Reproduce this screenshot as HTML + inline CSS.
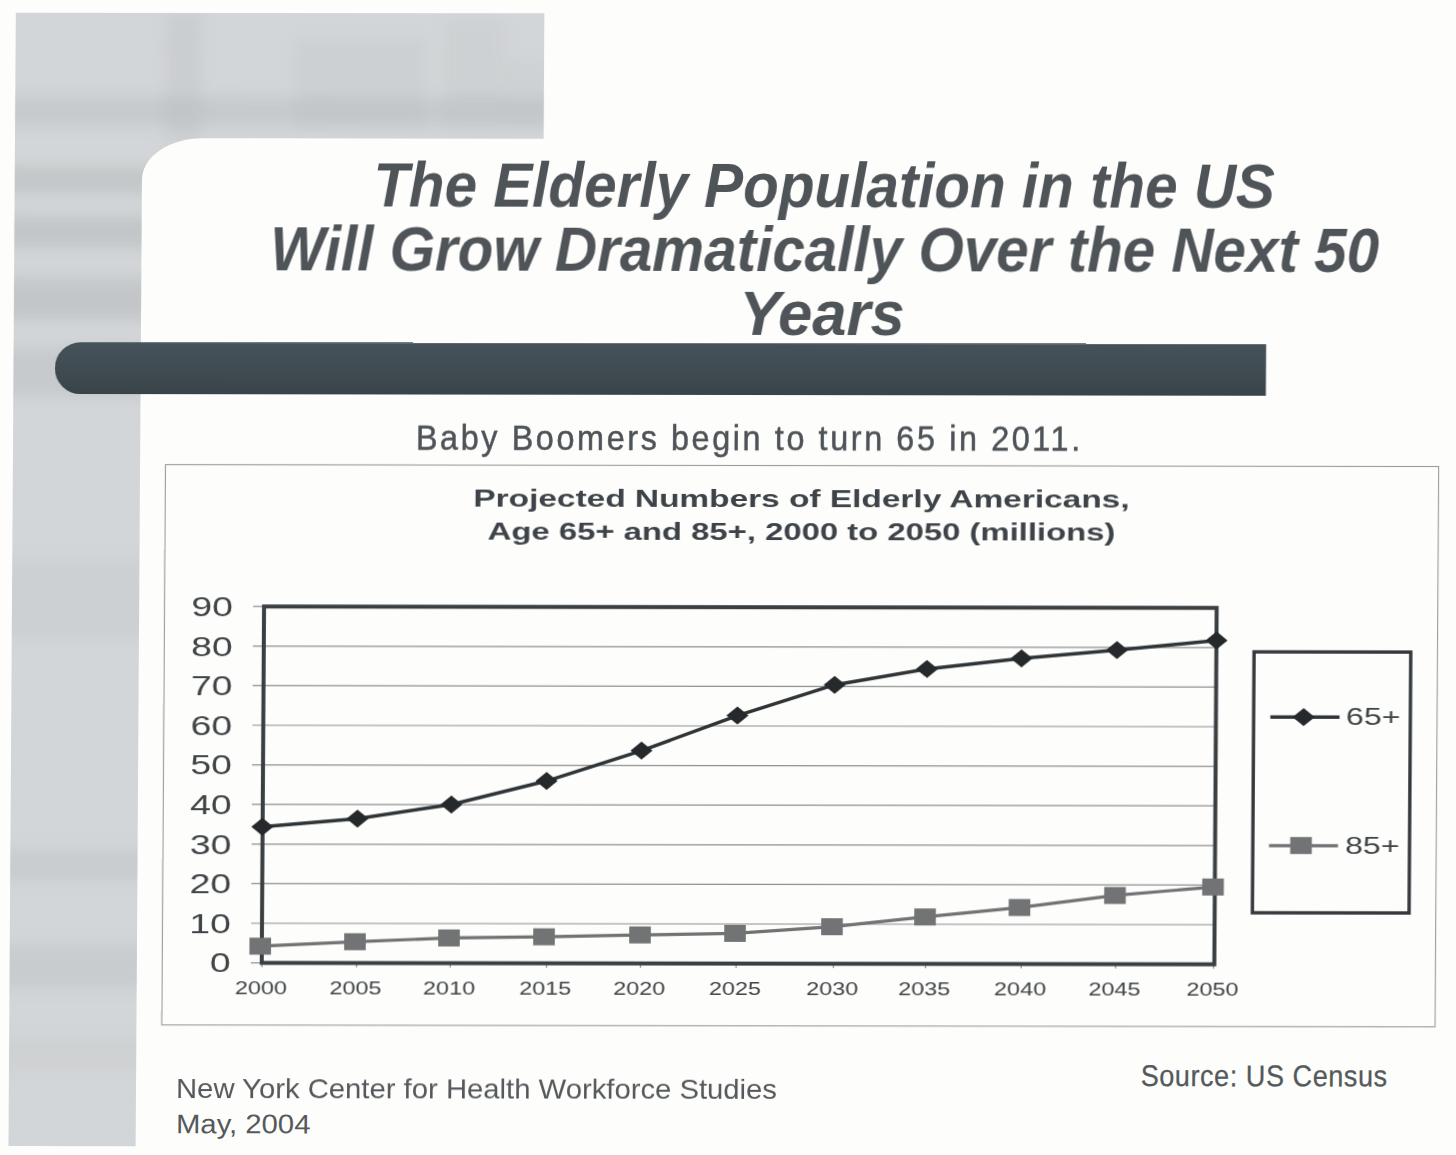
<!DOCTYPE html>
<html><head><meta charset="utf-8">
<style>
html,body{margin:0;padding:0;}
body{width:1456px;height:1155px;overflow:hidden;background:#fdfdfb;position:relative;}
svg{position:absolute;left:0;top:0;}
text{font-family:"Liberation Sans",sans-serif;}
</style></head>
<body>
<svg width="1456" height="1155" viewBox="0 0 1456 1155">
<g transform="matrix(1,0.0015,-0.0065,1,5.103,-1.110)">
<defs><clipPath id="lc"><path d="M10.8,13.8 L539.4,13.5 L539.4,139.0 L198.0,139.0 C166.0,139.0 138.0,157.0 138.0,181.0 L138.0,1147.1 L10.8,1147.1 Z"/></clipPath><filter id="bl" x="-20%" y="-50%" width="140%" height="200%"><feGaussianBlur stdDeviation="7"/></filter></defs>
<g clip-path="url(#lc)"><rect x="-10" y="-10" width="600" height="1180" fill="#d3d6d8"/><g filter="url(#bl)"><rect x="-20" y="97" width="600" height="30" fill="#a9aeb2" opacity="0.3"/><rect x="160" y="13" width="38" height="130" fill="#a9aeb2" opacity="0.2"/><rect x="290" y="40" width="130" height="90" fill="#a9aeb2" opacity="0.15"/><rect x="440" y="20" width="60" height="110" fill="#a9aeb2" opacity="0.12"/><rect x="500" y="60" width="44" height="70" fill="#a9aeb2" opacity="0.1"/><rect x="-20" y="168" width="170" height="26" fill="#a9aeb2" opacity="0.4"/><rect x="-20" y="217" width="170" height="32" fill="#a9aeb2" opacity="0.4"/><rect x="-20" y="279" width="170" height="42" fill="#a9aeb2" opacity="0.4"/><rect x="-20" y="348" width="170" height="50" fill="#a9aeb2" opacity="0.3"/><rect x="-20" y="560" width="170" height="80" fill="#a9aeb2" opacity="0.15"/><rect x="-20" y="850" width="170" height="32" fill="#a9aeb2" opacity="0.25"/><rect x="-20" y="945" width="170" height="45" fill="#a9aeb2" opacity="0.25"/><rect x="-20" y="1040" width="170" height="30" fill="#a9aeb2" opacity="0.12"/></g></g>
<defs><linearGradient id="bg" x1="0" y1="0" x2="0" y2="1"><stop offset="0" stop-color="#46525a"/><stop offset="0.5" stop-color="#404b52"/><stop offset="1" stop-color="#39434a"/></linearGradient></defs>
<path d="M78.0,343.2 L1263.3,343.2 L1263.3,395.1 L78.0,395.1 A25.95,25.95 0 0 1 78.0,343.2 Z" fill="url(#bg)"/>
<text transform="translate(820.24,206.87) scale(0.934,1)" font-size="62.5" fill="#4f5458" font-weight="bold" font-style="italic" text-anchor="middle" >The Elderly Population in the US</text>
<text transform="translate(821.16,270.87) scale(0.934,1)" font-size="62.5" fill="#4f5458" font-weight="bold" font-style="italic" text-anchor="middle" >Will Grow Dramatically Over the Next 50</text>
<text transform="translate(819.08,334.88) scale(0.986,1)" font-size="62.5" fill="#4f5458" font-weight="bold" font-style="italic" text-anchor="middle" >Years</text>
<text transform="translate(413.62,450.19) scale(0.9,1)" font-size="36" fill="#4e5358" font-weight="normal" font-style="normal" text-anchor="start" letter-spacing="2.88" stroke="#4e5358" stroke-width="0.5">Baby Boomers begin to turn 65 in 2011.</text>
<rect x="163.4" y="465.5" width="1273.2" height="560.3" fill="none" stroke="#9a9c9c" stroke-width="1.1"/>
<text transform="translate(799.59,507.11) scale(1.354,1)" font-size="24.7" fill="#3d4348" font-weight="bold" font-style="normal" text-anchor="middle" >Projected Numbers of Elderly Americans,</text>
<text transform="translate(799.91,539.91) scale(1.33,1)" font-size="24.7" fill="#3d4348" font-weight="bold" font-style="normal" text-anchor="middle" >Age 65+ and 85+, 2000 to 2050 (millions)</text>
<line x1="252" y1="924.0" x2="1215.5" y2="924.0" stroke="#8e9090" stroke-width="1.2"/>
<line x1="252" y1="884.4" x2="1215.5" y2="884.4" stroke="#8e9090" stroke-width="1.2"/>
<line x1="252" y1="844.8" x2="1215.5" y2="844.8" stroke="#8e9090" stroke-width="1.2"/>
<line x1="252" y1="805.2" x2="1215.5" y2="805.2" stroke="#8e9090" stroke-width="1.2"/>
<line x1="252" y1="765.6" x2="1215.5" y2="765.6" stroke="#8e9090" stroke-width="1.2"/>
<line x1="252" y1="726.0" x2="1215.5" y2="726.0" stroke="#8e9090" stroke-width="1.2"/>
<line x1="252" y1="686.4" x2="1215.5" y2="686.4" stroke="#8e9090" stroke-width="1.2"/>
<line x1="252" y1="646.8" x2="1215.5" y2="646.8" stroke="#8e9090" stroke-width="1.2"/>
<line x1="252" y1="963.6" x2="262.9" y2="963.6" stroke="#8e9090" stroke-width="1.2"/>
<line x1="252" y1="607.2" x2="262.9" y2="607.2" stroke="#8e9090" stroke-width="1.2"/>
<line x1="263.2" y1="963.6" x2="263.2" y2="968" stroke="#8e9090" stroke-width="1.2"/>
<line x1="357.7" y1="963.6" x2="357.7" y2="968" stroke="#8e9090" stroke-width="1.2"/>
<line x1="451.4" y1="963.6" x2="451.4" y2="968" stroke="#8e9090" stroke-width="1.2"/>
<line x1="547.6" y1="963.6" x2="547.6" y2="968" stroke="#8e9090" stroke-width="1.2"/>
<line x1="641.6" y1="963.6" x2="641.6" y2="968" stroke="#8e9090" stroke-width="1.2"/>
<line x1="737.2" y1="963.6" x2="737.2" y2="968" stroke="#8e9090" stroke-width="1.2"/>
<line x1="834.5" y1="963.6" x2="834.5" y2="968" stroke="#8e9090" stroke-width="1.2"/>
<line x1="926.6" y1="963.6" x2="926.6" y2="968" stroke="#8e9090" stroke-width="1.2"/>
<line x1="1022.4" y1="963.6" x2="1022.4" y2="968" stroke="#8e9090" stroke-width="1.2"/>
<line x1="1116.8" y1="963.6" x2="1116.8" y2="968" stroke="#8e9090" stroke-width="1.2"/>
<line x1="1214.7" y1="963.6" x2="1214.7" y2="968" stroke="#8e9090" stroke-width="1.2"/>
<rect x="262.9" y="607.2" width="952.6" height="356.4" fill="none" stroke="#3a3f42" stroke-width="4"/>
<polyline points="261.3,946.9 356.0,942.3 450.0,938.4 545.0,937.1 641.0,935.1 736.0,933.4 832.9,926.6 925.9,916.7 1020.3,907.1 1115.7,894.9 1213.7,886.3" fill="none" stroke="#707274" stroke-width="3.2"/>
<rect x="250.5" y="938.4" width="21.6" height="17" fill="#717375"/>
<rect x="345.2" y="933.8" width="21.6" height="17" fill="#717375"/>
<rect x="439.2" y="929.9" width="21.6" height="17" fill="#717375"/>
<rect x="534.2" y="928.6" width="21.6" height="17" fill="#717375"/>
<rect x="630.2" y="926.6" width="21.6" height="17" fill="#717375"/>
<rect x="725.2" y="924.9" width="21.6" height="17" fill="#717375"/>
<rect x="822.1" y="918.1" width="21.6" height="17" fill="#717375"/>
<rect x="915.1" y="908.2" width="21.6" height="17" fill="#717375"/>
<rect x="1009.5" y="898.6" width="21.6" height="17" fill="#717375"/>
<rect x="1104.9" y="886.4" width="21.6" height="17" fill="#717375"/>
<rect x="1202.9" y="877.8" width="21.6" height="17" fill="#717375"/>
<polyline points="262.6,827.5 357.7,819.2 451.5,804.9 546.6,781.3 641.3,750.8 737.0,715.6 834.0,684.7 926.2,668.7 1020.7,658.1 1116.1,649.4 1215.6,639.8" fill="none" stroke="#2f3437" stroke-width="3.5"/>
<path d="M251.6,827.5 L262.6,818.5 L273.6,827.5 L262.6,836.5 Z" fill="#25292b"/>
<path d="M346.7,819.2 L357.7,810.2 L368.7,819.2 L357.7,828.2 Z" fill="#25292b"/>
<path d="M440.5,804.9 L451.5,795.9 L462.5,804.9 L451.5,813.9 Z" fill="#25292b"/>
<path d="M535.6,781.3 L546.6,772.3 L557.6,781.3 L546.6,790.3 Z" fill="#25292b"/>
<path d="M630.3,750.8 L641.3,741.8 L652.3,750.8 L641.3,759.8 Z" fill="#25292b"/>
<path d="M726.0,715.6 L737.0,706.6 L748.0,715.6 L737.0,724.6 Z" fill="#25292b"/>
<path d="M823.0,684.7 L834.0,675.7 L845.0,684.7 L834.0,693.7 Z" fill="#25292b"/>
<path d="M915.2,668.7 L926.2,659.7 L937.2,668.7 L926.2,677.7 Z" fill="#25292b"/>
<path d="M1009.7,658.1 L1020.7,649.1 L1031.7,658.1 L1020.7,667.1 Z" fill="#25292b"/>
<path d="M1105.1,649.4 L1116.1,640.4 L1127.1,649.4 L1116.1,658.4 Z" fill="#25292b"/>
<path d="M1204.6,639.8 L1215.6,630.8 L1226.6,639.8 L1215.6,648.8 Z" fill="#25292b"/>
<text transform="translate(231.84,973.30) scale(1.37,1)" font-size="27.3" fill="#3f4447" text-anchor="end">0</text>
<text transform="translate(231.84,933.70) scale(1.37,1)" font-size="27.3" fill="#3f4447" text-anchor="end">10</text>
<text transform="translate(231.84,894.10) scale(1.37,1)" font-size="27.3" fill="#3f4447" text-anchor="end">20</text>
<text transform="translate(231.84,854.50) scale(1.37,1)" font-size="27.3" fill="#3f4447" text-anchor="end">30</text>
<text transform="translate(231.84,814.90) scale(1.37,1)" font-size="27.3" fill="#3f4447" text-anchor="end">40</text>
<text transform="translate(231.84,775.30) scale(1.37,1)" font-size="27.3" fill="#3f4447" text-anchor="end">50</text>
<text transform="translate(231.84,735.70) scale(1.37,1)" font-size="27.3" fill="#3f4447" text-anchor="end">60</text>
<text transform="translate(231.84,696.10) scale(1.37,1)" font-size="27.3" fill="#3f4447" text-anchor="end">70</text>
<text transform="translate(231.84,656.50) scale(1.37,1)" font-size="27.3" fill="#3f4447" text-anchor="end">80</text>
<text transform="translate(231.84,616.90) scale(1.37,1)" font-size="27.3" fill="#3f4447" text-anchor="end">90</text>
<text transform="translate(262.18,995) scale(1.22,1)" font-size="19.2" fill="#3f4447" text-anchor="middle">2000</text>
<text transform="translate(356.68,995) scale(1.22,1)" font-size="19.2" fill="#3f4447" text-anchor="middle">2005</text>
<text transform="translate(450.38,995) scale(1.22,1)" font-size="19.2" fill="#3f4447" text-anchor="middle">2010</text>
<text transform="translate(546.58,995) scale(1.22,1)" font-size="19.2" fill="#3f4447" text-anchor="middle">2015</text>
<text transform="translate(640.58,995) scale(1.22,1)" font-size="19.2" fill="#3f4447" text-anchor="middle">2020</text>
<text transform="translate(736.18,995) scale(1.22,1)" font-size="19.2" fill="#3f4447" text-anchor="middle">2025</text>
<text transform="translate(833.48,995) scale(1.22,1)" font-size="19.2" fill="#3f4447" text-anchor="middle">2030</text>
<text transform="translate(925.58,995) scale(1.22,1)" font-size="19.2" fill="#3f4447" text-anchor="middle">2035</text>
<text transform="translate(1021.38,995) scale(1.22,1)" font-size="19.2" fill="#3f4447" text-anchor="middle">2040</text>
<text transform="translate(1115.78,995) scale(1.22,1)" font-size="19.2" fill="#3f4447" text-anchor="middle">2045</text>
<text transform="translate(1213.68,995) scale(1.22,1)" font-size="19.2" fill="#3f4447" text-anchor="middle">2050</text>
<rect x="1253.2" y="651.1" width="156.7" height="260.9" fill="none" stroke="#35393c" stroke-width="3.4"/>
<line x1="1269.9" y1="716.3" x2="1339.1" y2="716.2" stroke="#2f3437" stroke-width="3.5"/>
<path d="M1292.2,716.3 L1303.2,707.3 L1314.2,716.3 L1303.2,725.3 Z" fill="#25292b"/>
<line x1="1269.4" y1="844.9" x2="1338.4" y2="844.8" stroke="#707274" stroke-width="3.2"/>
<rect x="1290.6" y="836.2" width="21.6" height="17" fill="#717375"/>
<text transform="translate(1345.61,724.09) scale(1.3,1)" font-size="24.7" fill="#3f4447" font-weight="normal" font-style="normal" text-anchor="start" >65+</text>
<text transform="translate(1345.45,852.59) scale(1.3,1)" font-size="24.7" fill="#3f4447" font-weight="normal" font-style="normal" text-anchor="start" >85+</text>
<text transform="translate(178.03,1098.85) scale(1.084,1)" font-size="27" fill="#55595c" font-weight="normal" font-style="normal" text-anchor="start" >New York Center for Health Workforce Studies</text>
<text transform="translate(178.26,1134.05) scale(1.084,1)" font-size="27" fill="#55595c" font-weight="normal" font-style="normal" text-anchor="start" >May, 2004</text>
<text transform="translate(1142.66,1085.40) scale(0.9,1)" font-size="30" fill="#55595c" font-weight="normal" font-style="normal" text-anchor="start" letter-spacing="0.65" stroke="#55595c" stroke-width="0.3">Source: US Census</text>
</g>
</svg>
</body></html>
